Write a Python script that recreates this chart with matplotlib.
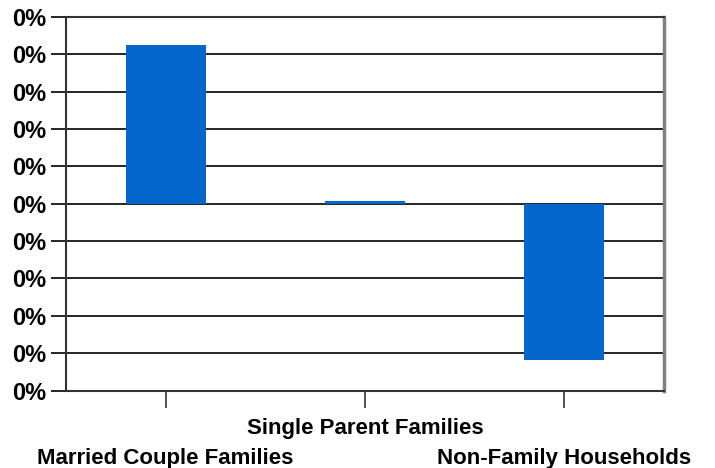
import matplotlib.pyplot as plt
import matplotlib

categories = ["Married Couple Families", "Single Parent Families", "Non-Family Households"]
values = [0.00424, 0.00007, -0.00418]
yticks = [-0.005, -0.004, -0.003, -0.002, -0.001, 0.0, 0.001, 0.002, 0.003, 0.004, 0.005]
ytick_labels = ["0%"] * len(yticks)


def main():
    matplotlib.rc("font", family=["Liberation Sans", "DejaVu Sans"], weight="bold")
    matplotlib.rcParams.update({"font.size": 16})

    fig = plt.figure(figsize=(7.15, 4.68), dpi=100)
    ax = fig.add_axes([66 / 715, 1 - 390.5 / 468, (664 - 66) / 715, (390.5 - 17) / 468])

    x = list(range(len(categories)))
    ax.bar(x, values, width=0.4, color="#0366CB", zorder=3)

    ax.set_xlim(-0.5, 2.5)
    ax.set_ylim(yticks[0], yticks[-1])
    ax.set_yticks(yticks)
    ax.set_yticklabels(ytick_labels, fontsize=17)
    ax.yaxis.grid(True, color="black", lw=1.2, zorder=1)

    # staggered category labels: odd ones on the upper row
    ax.set_xticks(x)
    ax.set_xticklabels([])
    trans = ax.get_xaxis_transform()
    for i, c in enumerate(categories):
        yy = -0.073 if i % 2 else -0.154
        ax.text(i, yy, c, transform=trans, ha="center", va="top", fontsize=16)
    ax.tick_params(axis="x", length=12, width=1.2, color="#333333")
    ax.tick_params(axis="y", length=11, width=1.2, pad=3)

    for side in ["left", "bottom", "top"]:
        ax.spines[side].set_linewidth(1.5)
        ax.spines[side].set_color("#333333")
    ax.spines["right"].set_linewidth(2.5)
    ax.spines["right"].set_color("#808080")
    return fig, ax


if __name__ == "__main__":
    fig, ax = main()
    plt.savefig("out.png", dpi=100)
